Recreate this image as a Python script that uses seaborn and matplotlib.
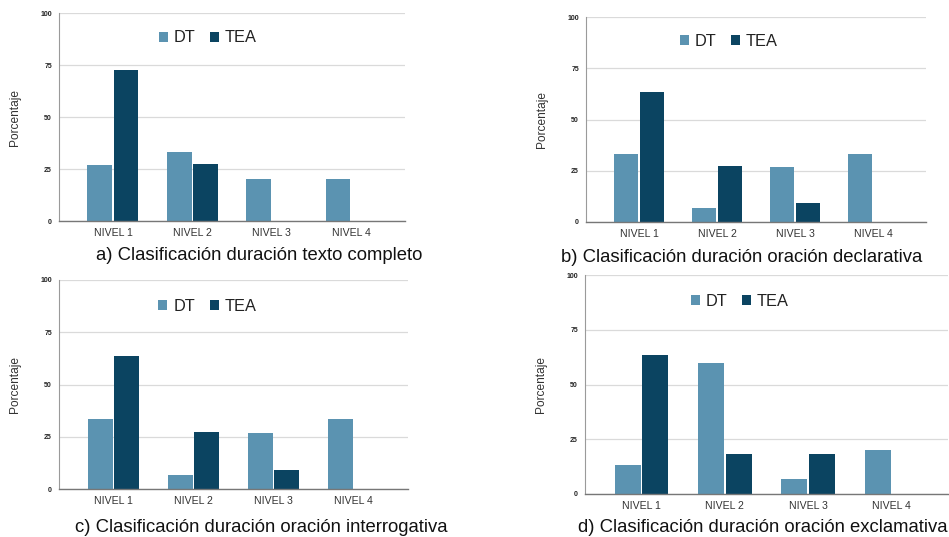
import matplotlib
matplotlib.use("Agg")
import matplotlib.pyplot as plt
import seaborn as sns
import pandas as pd

sns.set_theme(style="white")
plt.rcParams['font.family'] = ['Liberation Sans', 'DejaVu Sans']

categorias = ["NIVEL 1", "NIVEL 2", "NIVEL 3", "NIVEL 4"]
grupos = ["DT", "TEA"]

dt_a = [26.7, 33.3, 20.0, 20.0]
tea_a = [72.7, 27.3, 0.0, 0.0]
dt_b = [33.3, 6.7, 26.7, 33.3]
tea_b = [63.6, 27.3, 9.1, 0.0]
dt_c = [33.3, 6.7, 26.7, 33.3]
tea_c = [63.6, 27.3, 9.1, 0.0]
dt_d = [13.3, 60.0, 6.7, 20.0]
tea_d = [63.6, 18.2, 18.2, 0.0]

titulos = [
    "a) Clasificación duración texto completo",
    "b) Clasificación duración oración declarativa",
    "c) Clasificación duración oración interrogativa",
    "d) Clasificación duración oración exclamativa",
]
y_ticks = [0, 25, 50, 75, 100]
y_label = "Porcentaje"

colores = {"DT": "#5B93B1", "TEA": "#0B4461"}

W, H = 949, 537
fig = plt.figure(figsize=(W / 100, H / 100), dpi=100)

def px_rect(l, r, t, b):
    return [l / W, 1 - b / H, (r - l) / W, (b - t) / H]

paneles = [
    dict(rect=px_rect(59, 405, 13, 221), dt=dt_a, tea=tea_a, title=titulos[0],
         tpos=(259, 256), leg=(0.43, 0.88)),
    dict(rect=px_rect(586, 926, 17, 222), dt=dt_b, tea=tea_b, title=titulos[1],
         tpos=(742, 258), leg=(0.42, 0.88)),
    dict(rect=px_rect(59, 408, 280, 489), dt=dt_c, tea=tea_c, title=titulos[2],
         tpos=(261, 528), leg=(0.425, 0.874)),
    dict(rect=px_rect(585, 948, 275, 494), dt=dt_d, tea=tea_d, title=titulos[3],
         tpos=(763, 527), leg=(0.426, 0.878)),
]

for p in paneles:
    ax = fig.add_axes(p["rect"])
    df = pd.DataFrame({
        "Nivel": categorias * 2,
        "Grupo": ["DT"] * 4 + ["TEA"] * 4,
        "Porcentaje": list(p["dt"]) + list(p["tea"]),
    })
    sns.barplot(data=df, x="Nivel", y="Porcentaje", hue="Grupo", hue_order=grupos,
                palette=colores, width=0.66, gap=0.05, linewidth=0, ax=ax,
                saturation=1)
    ax.set_xlim(-0.68, 3.68)
    ax.set_ylim(0, 100)
    ax.set_yticks(y_ticks)
    ax.set_yticklabels([str(v) for v in y_ticks], fontsize=5, fontweight="bold", color="#222222")
    ax.tick_params(axis="x", labelsize=7.6, colors="#333333", pad=5, length=0)
    ax.tick_params(axis="y", pad=5, length=0)
    ax.set_xlabel("")
    ax.set_ylabel(y_label, fontsize=8.6, color="#333333", labelpad=14)
    ax.yaxis.grid(True, color="#DADADA", linewidth=0.9)
    ax.set_axisbelow(True)
    for s in ["top", "right"]:
        ax.spines[s].set_visible(False)
    ax.spines["left"].set_color("#9A9A9A")
    ax.spines["left"].set_linewidth(0.8)
    ax.spines["bottom"].set_color("#777777")
    ax.spines["bottom"].set_linewidth(1.0)
    lg = ax.get_legend()
    if lg is not None:
        lg.remove()
    handles, labels = ax.get_legend_handles_labels()
    ax.legend(handles, labels, loc="center", bbox_to_anchor=p["leg"], ncol=2,
              frameon=False, fontsize=11.8, handlelength=0.55, handleheight=0.55,
              handletextpad=0.35, columnspacing=0.9, labelcolor="#222222")
    fig.text(p["tpos"][0] / W, 1 - p["tpos"][1] / H, p["title"], ha="center",
             va="center", fontsize=13.3, color="#111111")

fig.savefig("out.png", dpi=100)
